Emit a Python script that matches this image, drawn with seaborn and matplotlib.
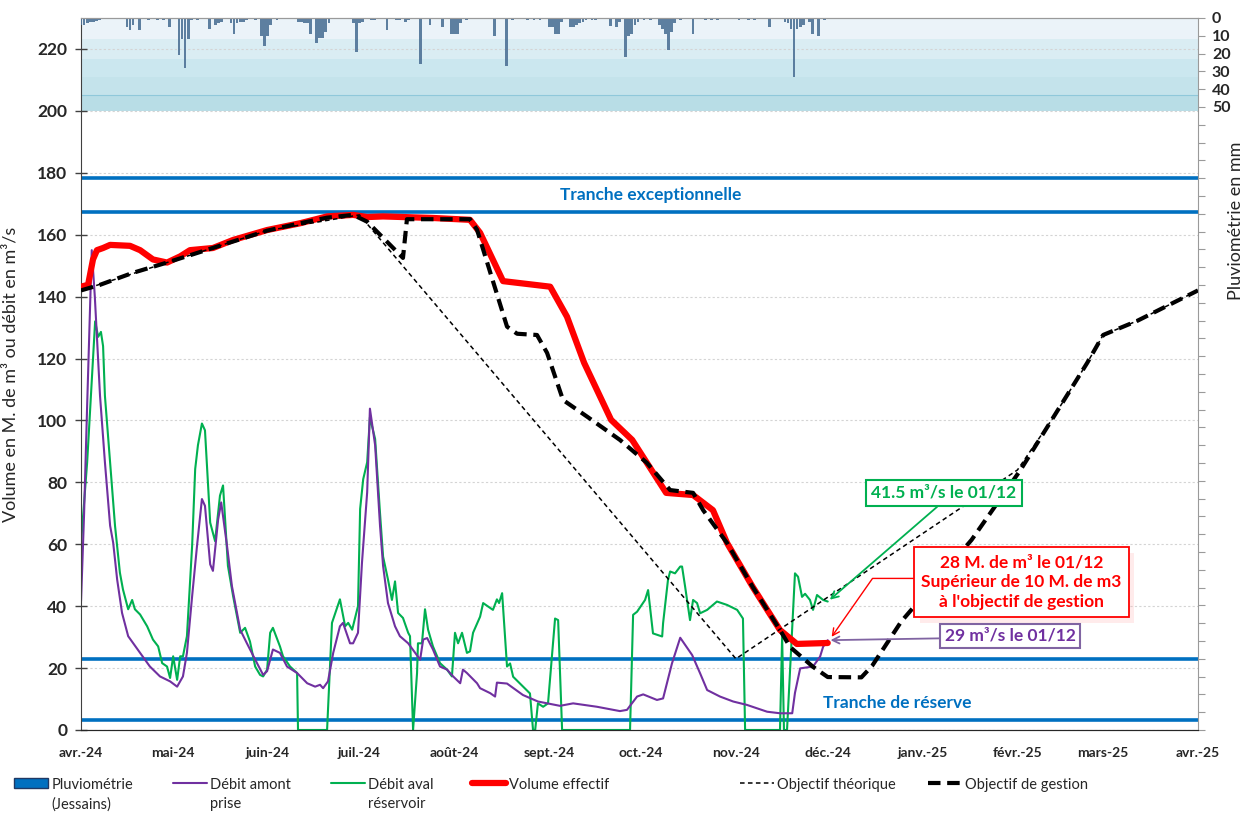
import pandas as pd
import matplotlib
matplotlib.use("Agg")
import matplotlib.pyplot as plt
import matplotlib.patheffects as pe
from matplotlib.patches import Patch
from matplotlib.lines import Line2D
from matplotlib.ticker import FixedLocator, FuncFormatter
import seaborn as sns

START = pd.Timestamp("2024-04-01")

# all x values are days counted from 1 April 2024
volume_day = [0, 2.3, 3.9, 5.2, 7.2, 9.5, 16, 19.3, 23.5, 28.1, 32.4, 35.6, 43.1, 49.7,
              60.8, 71.6, 80.4, 88.9, 93.5, 98.7, 115, 127.1, 130.4, 137.9, 153.3,
              158.8, 164.4, 173.2, 180.1, 191.2, 200, 206.5, 211.1, 219.5, 228.4,
              233.9, 244]
volume_val = [143.2, 143.8, 152, 155, 155.7, 156.7, 156.4, 155, 152, 151, 153, 155,
              155.7, 158.3, 161.5, 163.7, 165.9, 166.4, 165.7, 165.9, 165.4, 164.8,
              160.6, 145, 143.2, 133.5, 118.6, 100.2, 93.7, 76.6, 75.9, 71, 60.4,
              46.2, 32.3, 27.8, 28.1]

gestion_day = [0, 6.2, 16.7, 28.1, 49.7, 60.8, 71.6, 80.4, 88.9, 93.5, 105.2, 106.5,
               127.1, 129.4, 139.2, 142.5, 149, 152.3, 157.5, 165.4, 176.1, 184.9,
               192.5, 200, 203.3, 211.1, 219.5, 228.4, 231.7, 239.2, 244, 255, 258.5,
               268, 291, 307, 317.6, 328.8, 334, 345, 365]
gestion_val = [142, 143.8, 147.6, 151, 157.8, 161.3, 163.7, 165.5, 166.4, 164.2, 152.5,
               165, 165, 161.6, 130.3, 128, 127.6, 121.8, 106.6, 101.2, 93.7, 86.3,
               77.5, 76.6, 71, 60.4, 46.2, 32.3, 26.8, 20.4, 17.1, 17, 20.7, 35, 61.4,
               84, 100.8, 118.6, 127.6, 132.1, 142]

theorique_day = [0, 28.1, 60.8, 91, 214, 306, 317.6, 328.8, 334, 345, 365]
theorique_val = [142, 151, 161.3, 166.4, 23, 84, 100.8, 118.6, 127.6, 132.1, 142]

amont_day = [0, 1, 2, 3.5, 4.5, 6.2, 7.8, 9.5, 10.5, 11.8, 13.4, 15.4, 19.3, 22.5, 25.8,
             29.1, 31.4, 33.3, 34.6, 36.3, 37.9, 39.5, 40.5, 42.2, 43.1, 44.8, 45.8,
             47.7, 49.3, 52, 54.2, 57.5, 59.5, 60.8, 62.7, 65, 67.3, 70.6, 73.9, 76.5,
             78.1, 79.1, 80.7, 82.4, 84.6, 85.6, 87.9, 88.9, 90.5, 91.8, 93.5, 94.4,
             96.1, 97.7, 98.7, 100.3, 102.6, 104.2, 106.9, 109.2, 110.8, 111.8, 113.1,
             115, 117.3, 119.6, 121.6, 123.9, 124.8, 126.1, 129.4, 130.4, 133.7, 135.3,
             135.9, 139.2, 144.4, 149.3, 156.5, 160.8, 168.6, 176.1, 178.4, 181.7,
             183.7, 188.2, 190.2, 193.1, 195.8, 199.7, 202.3, 204.6, 208.8, 213.1,
             217.6, 220.9, 224.2, 228.4, 232.4, 233.3, 235, 239.2, 241.5, 242.5, 244]
amont_val = [41.6, 70, 105, 155, 140, 108, 86.5, 66, 60.5, 48.6, 37.8, 30.3, 24.9, 20.5,
             17.3, 15.7, 14, 17.3, 24.9, 43.2, 59.5, 74.6, 72.4, 53.5, 51.4, 68, 73.5,
             59.5, 46.5, 32.4, 28, 21.6, 17.8, 19, 26, 24.9, 20.5, 18.4, 15.1, 14, 14.6,
             13.5, 15.7, 24.9, 33.5, 34.6, 28, 28, 31.4, 54, 76.8, 103.8, 92, 66, 53,
             41, 33.5, 30.3, 28, 24.9, 22.7, 29.2, 29.7, 26, 20.5, 19.5, 17.3, 15.1,
             19.5, 18.4, 15.1, 13.5, 11.9, 10.8, 15.3, 15, 11.3, 9.2, 7.8, 8.6, 7.5,
             6.1, 6.5, 10.8, 11.5, 9.7, 10.2, 21.5, 29.8, 24.2, 18.3, 12.9, 10.8, 9.2,
             8.1, 7, 5.9, 5.4, 5.4, 12, 19.9, 20.5, 23.7, 26.9, 29]

aval_day = [0, 2, 4.6, 5.6, 6.5, 7.2, 7.8, 9.5, 11.1, 12.7, 13.7, 15.4, 16.7, 17.6, 19.3,
            21.6, 23.5, 25.2, 26.5, 28.1, 29.1, 30.1, 31.4, 32.4, 33.3, 34.6, 36.3,
            37.3, 38.2, 39.5, 40.5, 42.2, 43.8, 45.4, 46.4, 48, 49.7, 52, 53.6, 55.2,
            56.9, 58.5, 59.5, 60.8, 61.8, 62.7, 65, 66, 68.3, 70.6, 70.9, 80.4, 82,
            84.6, 86.3, 87.3, 88.6, 90.5, 91.2, 92.2, 93.5, 94.4, 96.1, 97.7, 98.7,
            100.3, 101.6, 102.6, 103.6, 105.2, 106.9, 107.5, 108.5, 109.8, 110.1,
            111.4, 112.4, 113.4, 115, 117.3, 119.6, 121.2, 122.2, 123.2, 124.5, 126.1,
            127.1, 128.1, 130.4, 131.4, 134.6, 135.9, 136.6, 137.6, 139.2, 140.2,
            141.2, 146.7, 147.7, 148.4, 149.3, 151, 152.6, 154.9, 155.9, 157.2, 179.4,
            180.4, 181.7, 184.3, 185.3, 186.9, 189.9, 190.2, 191.8, 192.5, 194.1,
            195.8, 196.4, 197.4, 199, 200, 201.3, 202.3, 204.6, 207.8, 211.1, 214.4,
            216.3, 217, 228.4, 229.1, 229.7, 230.7, 232.4, 233.3, 234.3, 235.6, 236.6,
            238.2, 239.2, 240.5, 242.5, 244]
aval_val = [60.5, 86.5, 132, 127, 128.6, 124, 108, 86.5, 66, 50.8, 45.4, 39, 42, 39, 37.3,
            33.5, 29.2, 27, 21.6, 20.5, 16.8, 23.8, 16.2, 23.8, 23.8, 30.3, 59.5, 84.3,
            92, 99, 96.8, 67, 61, 75.7, 79, 53, 43.2, 31.4, 33, 28.6, 20.5, 17.8, 17.3,
            19.5, 31.4, 33, 27, 23.8, 20.5, 18.4, 0, 0, 34.6, 42.2, 33.5, 34.6, 32.4, 40,
            71.4, 81, 86.5, 101, 94, 70, 56, 48.6, 42, 48, 37.8, 36.2, 31.4, 30.3, 0,
            18.4, 28, 28, 39, 32.4, 27, 21.6, 19.5, 17.3, 31.4, 28, 31.4, 24.9, 25.4,
            31.4, 36.6, 41, 38.8, 42.2, 41, 44.2, 20.5, 21.5, 17.2, 11.8, 0, 0, 8.6,
            7.5, 8.6, 36, 35.5, 0, 0, 37.2, 38.2, 42, 45.2, 31.2, 30.2, 34.5, 48.5,
            51.2, 50.6, 52.8, 52.8, 46.3, 35.5, 42, 41, 37.7, 38.8, 41.5, 40.4, 38.8,
            36, 0, 0, 30.2, 0, 0, 33.4, 50.6, 49.5, 43, 44, 42, 38.8, 43.6, 42, 41.5]

rain_day = [0, 1, 2, 3, 4, 5, 6, 15, 16, 17, 19, 22, 25, 27, 29, 32, 33, 34, 35, 36, 38,
            42, 44, 45, 46, 49, 50, 51, 52, 53, 54, 57, 59, 60, 61, 62, 64, 71, 72, 73,
            74, 75, 77, 78, 79, 80, 81, 89, 90, 91, 92, 95, 96, 100, 103, 104, 106, 107,
            111, 114, 118, 121, 122, 123, 124, 126, 135, 139, 141, 146, 148, 150, 153,
            154, 155, 156, 157, 160, 161, 162, 163, 164, 165, 167, 168, 173, 175, 176,
            178, 179, 180, 181, 182, 184, 186, 189, 190, 191, 192, 193, 194, 196, 200,
            204, 206, 208, 215, 218, 220, 225, 230, 231, 232, 233, 234, 235, 236, 238,
            239, 241, 243]
rain_mm = [4, 4, 3, 2, 2, 1.5, 1, 5, 7, 4, 7, 1, 1, 1, 5, 21, 12, 28, 12, 1, 1,
           6, 4, 3, 2, 3, 9, 3, 2, 2, 1, 1, 10, 16, 10, 4, 1, 2, 2, 3,
           3, 9, 14, 11, 11, 8, 3, 3, 19, 3, 2, 1, 1, 7, 1, 1, 2, 1,
           26, 4, 5, 9, 9, 9, 3, 1, 10, 27, 1, 1, 1, 1, 5,
           5, 9, 9, 2, 5, 5, 4, 3, 2, 1, 1, 1, 4.5, 5, 2,
           22, 10, 9, 4, 2, 1, 1, 4, 6, 9, 18, 8, 3, 1, 9,
           1, 1, 1, 1, 1, 1, 5, 2, 3, 6, 33, 6, 5, 4, 2,
           9, 10, 1]

reserve_levels = [178.3, 167.4, 22.9, 3.2]
month_labels = ["avr.-24", "mai-24", "juin-24", "juil.-24", "août-24", "sept.-24",
                "oct.-24", "nov.-24", "déc.-24", "janv.-25", "févr.-25", "mars-25",
                "avr.-25"]

BLUE = "#0070C0"
PURPLE = "#7030A0"
GREEN = "#00B050"
RED = "#FF0000"


def to_dates(days):
    return START + pd.to_timedelta(days, unit="D")


def day(d):
    return START + pd.Timedelta(days=d)


sns.set_style("white")
plt.rcParams["font.family"] = ["Lato", "DejaVu Sans"]

fig = plt.figure(figsize=(12.43, 8.18), dpi=100)
ax = fig.add_axes([0.0652, 0.1076, 0.8986, 0.8704])

# shaded rain area at the top
bands = [(223.3, 230, "#EBF3F9"), (216.8, 223.3, "#DAEDF3"), (211, 216.8, "#CBE7EF"),
         (205.2, 211, "#C4E3EB"), (200, 205.2, "#B8DDE6")]
for lo, hi, c in bands:
    ax.axhspan(lo, hi, color=c, lw=0, zorder=0)
ax.axhline(205.2, color="#8FC8DA", lw=0.8, zorder=0.5)

for lvl in reserve_levels:
    ax.axhline(lvl, color=BLUE, lw=2.6, zorder=1.5)

sns.lineplot(x=to_dates(aval_day), y=aval_val, ax=ax, color=GREEN, lw=1.5,
             estimator=None, sort=False, legend=False, zorder=2)
sns.lineplot(x=to_dates(amont_day), y=amont_val, ax=ax, color=PURPLE, lw=1.5,
             estimator=None, sort=False, legend=False, zorder=2.1)
sns.lineplot(x=to_dates(volume_day), y=volume_val, ax=ax, color=RED, lw=4.5,
             estimator=None, sort=False, legend=False, zorder=3)
sns.lineplot(x=to_dates(theorique_day), y=theorique_val, ax=ax, color="black", lw=1.1,
             linestyle=(0, (3, 2.2)), estimator=None, sort=False, legend=False, zorder=4)
sns.lineplot(x=to_dates(gestion_day), y=gestion_val, ax=ax, color="black", lw=3,
             linestyle=(0, (3, 1.6)), estimator=None, sort=False, legend=False, zorder=5)

ax.text(day(186), 172.9, "Tranche exceptionnelle", color=BLUE, fontsize=12.5,
        fontweight="bold", ha="center", va="center")
ax.text(day(266.7), 8.7, "Tranche de réserve", color=BLUE, fontsize=12.5,
        fontweight="bold", ha="center", va="center")

ax.set_xlim(day(0), day(365))
ax.set_ylim(0, 230)
ax.set_yticks(range(0, 221, 20))
months = pd.date_range("2024-04-01", "2025-04-01", freq="MS")
ax.set_xticks(months)
ax.set_xticklabels(month_labels)
ax.set_xlabel("")
ax.set_ylabel("Volume en M. de m³ ou débit en m³/s", fontsize=13)
ax.yaxis.set_label_coords(-0.056, 0.5)
ax.yaxis.grid(True, color="#D4D4D4", linestyle=(0, (2, 2)), lw=0.8)
ax.set_axisbelow(True)
ax.tick_params(axis="both", direction="inout", length=8, width=1, color="#404040")
ax.tick_params(axis="y", pad=6, labelsize=12.5)
ax.tick_params(axis="x", pad=8, labelsize=10)
for lab in ax.get_xticklabels() + ax.get_yticklabels():
    lab.set_fontweight("bold")
for s in ["left", "bottom"]:
    ax.spines[s].set_color("#404040")
ax.spines["top"].set_color("#9A9A9A")
ax.spines["right"].set_visible(False)

# annotations
ann_g = ax.annotate("41.5 m³/s le 01/12", xy=(day(244), 41.5), xytext=(day(282), 76.6),
                    ha="center", va="center", color=GREEN, fontsize=12.5, fontweight="bold",
                    bbox=dict(boxstyle="square,pad=0.3", fc="white", ec=GREEN, lw=1.5),
                    arrowprops=dict(arrowstyle="->", color=GREEN, lw=1.3, shrinkA=0,
                                    shrinkB=2, relpos=(0.5, 0)), zorder=6)
ann_r = ax.annotate("28 M. de m³ le 01/12\nSupérieur de 10 M. de m3\nà l'objectif de gestion",
                    xy=(day(244.5), 29), xytext=(day(307.3), 47.7),
                    ha="center", va="center", color=RED, fontsize=12.5, fontweight="bold",
                    linespacing=1.3,
                    bbox=dict(boxstyle="square,pad=0.4", fc="white", ec=RED, lw=1.3),
                    arrowprops=dict(arrowstyle="->", color=RED, lw=1, shrinkA=0, shrinkB=3,
                                    relpos=(0, 0.57),
                                    connectionstyle="angle,angleA=0,angleB=55,rad=0"),
                    zorder=6)
ann_r.get_bbox_patch().set_path_effects([
    pe.SimplePatchShadow(offset=(4, -4), shadow_rgbFace="#FFB0B0", alpha=0.25),
    pe.Normal()])
ann_p = ax.annotate("29 m³/s le 01/12", xy=(day(244), 29), xytext=(day(303.6), 30.4),
                    ha="center", va="center", color=PURPLE, fontsize=12.5, fontweight="bold",
                    bbox=dict(boxstyle="square,pad=0.25", fc="white", ec="#8064A2", lw=1.5),
                    arrowprops=dict(arrowstyle="->", color="#8064A2", lw=1.3, shrinkA=0,
                                    shrinkB=2, relpos=(0, 0.35)), zorder=6)

# rain on the secondary axis, hanging from the top
ax2 = ax.twinx()
ax2.bar(to_dates(rain_day), rain_mm, width=0.9, color="#4E7296", alpha=0.9, lw=0)
ax2.set_ylim(400, 0)
ax2.yaxis.set_major_locator(FixedLocator(range(0, 401, 10)))
ax2.yaxis.set_major_formatter(FuncFormatter(lambda v, p: f"{int(v)}" if v <= 50 else ""))
ax2.tick_params(axis="y", direction="out", length=5, color="#9A9A9A", labelsize=11.5, pad=5)
for lab in ax2.get_yticklabels():
    lab.set_fontweight("bold")
ax2.set_ylabel("Pluviométrie en mm", fontsize=13)
ax2.yaxis.set_label_coords(1.027, 0.715)
ax2.spines["right"].set_color("#9A9A9A")
ax2.spines["top"].set_color("#9A9A9A")
ax2.spines["left"].set_visible(False)
ax2.grid(False)
ax2.set_xlim(day(0), day(365))

# legend, one entry per slot along the bottom
handles = [
    (Patch(facecolor=BLUE, edgecolor="#1F3864", lw=1), "Pluviométrie\n(Jessains)", 14),
    (Line2D([], [], color=PURPLE, lw=1.5), "Débit amont\nprise", 173),
    (Line2D([], [], color=GREEN, lw=1.5), "Débit aval\nréservoir", 331),
    (Line2D([], [], color=RED, lw=4.5), "Volume effectif", 472),
    (Line2D([], [], color="black", lw=1.1, linestyle=(0, (3, 2.2))), "Objectif théorique", 740),
    (Line2D([], [], color="black", lw=3, linestyle=(0, (3, 1.6))), "Objectif de gestion", 928),
]
for h, lab, xp in handles:
    leg = fig.legend([h], [lab], loc="upper left", bbox_to_anchor=(xp / 1243, 1 - 778 / 818),
                     frameon=False, fontsize=10.5, handlelength=2.3, handletextpad=0.25,
                     borderpad=0, borderaxespad=0)
    for t in leg.get_texts():
        t.set_linespacing(1.45)
    # keep the handle level with the first line of text
    for col in leg._legend_handle_box.get_children():
        for row in col.get_children():
            row.align = "top"

fig.savefig("out.png", dpi=100)
